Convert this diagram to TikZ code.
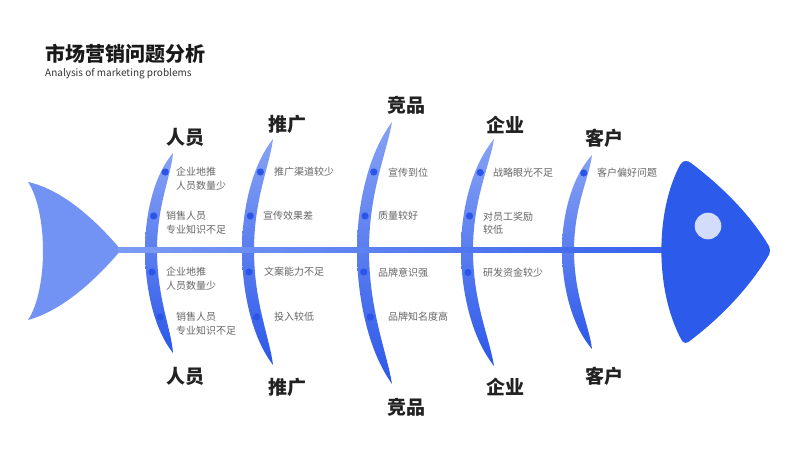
\documentclass[tikz,border=0pt]{standalone}
\usepackage{fontspec}
\setmainfont{Noto Sans CJK SC}
\definecolor{tailc}{HTML}{7293F3}
\definecolor{headc}{HTML}{2C5BEB}
\definecolor{eyec}{HTML}{D3DDFB}
\definecolor{ribtop}{HTML}{87A2F5}
\definecolor{ribmid}{HTML}{4C75EF}
\definecolor{ribbot}{HTML}{2C58EA}
\definecolor{spinel}{HTML}{7C9BF4}
\definecolor{spiner}{HTML}{3862EC}
\definecolor{dotc}{HTML}{2A55E8}
\definecolor{itemc}{HTML}{666666}
\definecolor{labc}{HTML}{222222}
\tikzset{
  itemtxt/.style={anchor=west, inner sep=0pt, font=\fontsize{10}{12}\selectfont, text=itemc},
  cattxt/.style={inner sep=0pt, font=\fontsize{19}{22}\selectfont\bfseries, text=labc},
  ribplot/.style={samples=40, variable=\s, smooth},
}
% rib: #1 xm, #2 xt, #3 yt, #4 yb  (half width 6)
\newcommand\fishrib[4]{%
  \shade[top color=ribtop, middle color=ribmid, bottom color=ribbot]
   plot[ribplot, domain=1:0] ({#1+(#2-#1)*\s*\s-6*(1-\s^6)},{250-(250-#3)*\s})
   -- plot[ribplot, domain=0:1] ({#1+(#2-#1)*\s*\s-6*(1-\s^6)},{250+(#4-250)*\s})
   -- plot[ribplot, domain=1:0] ({#1+(#2-#1)*\s*\s+6*(1-\s^6)},{250+(#4-250)*\s})
   -- plot[ribplot, domain=0:1] ({#1+(#2-#1)*\s*\s+6*(1-\s^6)},{250-(250-#3)*\s})
   -- cycle;}
% dot on rib: #1 xm, #2 xt, #3 tip y, #4 y
\newcommand\ribdot[4]{%
  \pgfmathsetmacro\rdx{#1+(#2-#1)*((250-#4)/(250-#3))^2}%
  \fill[dotc] (\rdx,#4) circle (3.6);}
\begin{document}
\begin{tikzpicture}[x=1pt,y=-1pt]
\useasboundingbox (0,0) rectangle (800,450);
\fill[white] (0,0) rectangle (800,450);

% title
\node[anchor=west, inner sep=0pt, font=\fontsize{20}{24}\selectfont\bfseries, text=black!90] (title) at (45,54) {市场营销问题分析};
\node[anchor=west, inner sep=0pt, font=\fontsize{10}{12}\selectfont, text=black!80] (subtitle) at (45,74) {Analysis of marketing problems};

% tail
\fill[tailc] (28,182) .. controls (65,190) and (100,225) .. (121,250)
  .. controls (100,275) and (65,310) .. (28,320)
  .. controls (48,290) and (48,212) .. (28,182) -- cycle;

% ribs
\fishrib{151}{173}{153}{353}
\fishrib{248}{273}{139}{365}
\fishrib{363}{392}{122}{384}
\fishrib{467}{494}{139}{366}
\fishrib{568}{592}{155}{349}

% spine
\shade[left color=spinel, right color=spiner] (118,247.2) rectangle (665,252.8);

% head
\fill[headc] (680,165) .. controls (683,160) and (687,160) .. (691,163)
  .. controls (720,185) and (748,212) .. (767,243)
  .. controls (771,248) and (771,253) .. (767,258)
  .. controls (748,289) and (720,318) .. (691,340)
  .. controls (687,344) and (683,344) .. (681,339)
  .. controls (655,290) and (655,212) .. (680,165) -- cycle;
\fill[eyec] (708,226) circle (13.3);

% dots
\ribdot{151}{173}{153}{172}
\ribdot{151}{173}{153}{216}
\ribdot{151}{173}{353}{272}
\ribdot{151}{173}{353}{317}
\ribdot{248}{273}{139}{172}
\ribdot{248}{273}{139}{216}
\ribdot{248}{273}{365}{272}
\ribdot{248}{273}{365}{317}
\ribdot{363}{392}{122}{172}
\ribdot{363}{392}{122}{216}
\ribdot{363}{392}{384}{272}
\ribdot{363}{392}{384}{317}
\ribdot{467}{494}{139}{172.5}
\ribdot{467}{494}{139}{216}
\ribdot{467}{494}{366}{272.5}
\ribdot{568}{592}{155}{173}

% category labels
\node[cattxt] (ry-up) at (185,137) {人员};
\node[cattxt] (ry-dn) at (185,376) {人员};
\node[cattxt] (tg-up) at (287,124) {推广};
\node[cattxt] (tg-dn) at (287,387) {推广};
\node[cattxt] (jp-up) at (406,105) {竞品};
\node[cattxt] (jp-dn) at (406,407) {竞品};
\node[cattxt] (qy-up) at (505,125) {企业};
\node[cattxt] (qy-dn) at (505,387) {企业};
\node[cattxt] (kh-up) at (604,138) {客户};
\node[cattxt] (kh-dn) at (604,376) {客户};

% items
\node[itemtxt] (i1a) at (176,172) {企业地推};
\node[itemtxt] (i1b) at (176,186) {人员数量少};
\node[itemtxt] (i2a) at (166,216) {销售人员};
\node[itemtxt] (i2b) at (166,230) {专业知识不足};
\node[itemtxt] (i3a) at (166,272) {企业地推};
\node[itemtxt] (i3b) at (166,286) {人员数量少};
\node[itemtxt] (i4a) at (176,317) {销售人员};
\node[itemtxt] (i4b) at (176,331) {专业知识不足};

\node[itemtxt] (i5) at (274,172) {推广渠道较少};
\node[itemtxt] (i6) at (263,216) {宣传效果差};
\node[itemtxt] (i7) at (264,272) {文案能力不足};
\node[itemtxt] (i8) at (274,317) {投入较低};

\node[itemtxt] (i9) at (388,173) {宣传到位};
\node[itemtxt] (i10) at (378,216) {质量较好};
\node[itemtxt] (i11) at (378,273) {品牌意识强};
\node[itemtxt] (i12) at (388,317) {品牌知名度高};

\node[itemtxt] (i13) at (493,173) {战略眼光不足};
\node[itemtxt] (i14a) at (483,216.5) {对员工奖励};
\node[itemtxt] (i14b) at (483,229.5) {较低};
\node[itemtxt] (i15) at (483,273) {研发资金较少};

\node[itemtxt] (i16) at (597,173) {客户偏好问题};
\end{tikzpicture}
\end{document}
